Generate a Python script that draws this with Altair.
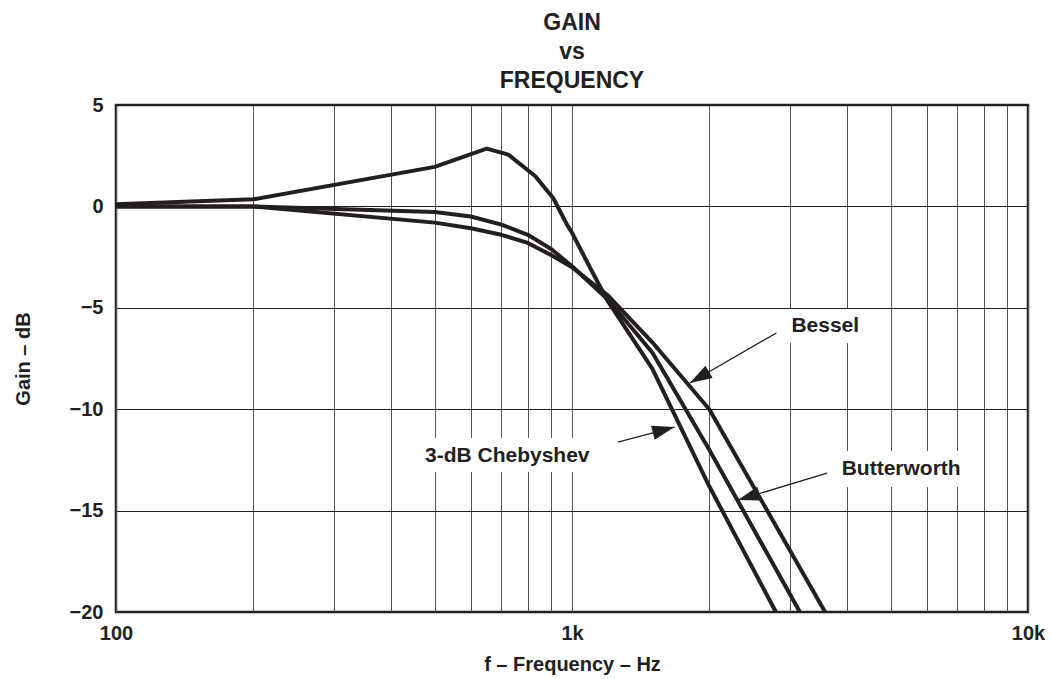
import math
import altair as alt
import pandas as pd

# ---- data ----
freq_cheb = [100, 200, 500, 650, 725, 830, 910, 975, 1000, 1100, 1200, 1500, 2000, 2800]
gain_cheb = [0.1, 0.35, 1.95, 2.85, 2.55, 1.5, 0.4, -0.9, -1.3, -3.1, -4.7, -8.0, -13.8, -20.0]

freq_butter = [100, 200, 500, 600, 700, 800, 900, 1000, 1200, 1500, 2000, 3160]
gain_butter = [0.0, 0.0, -0.28, -0.5, -0.9, -1.4, -2.1, -2.95, -4.6, -7.2, -12.0, -20.0]

freq_bessel = [100, 200, 500, 600, 700, 800, 900, 1000, 1200, 1500, 2000, 3590]
gain_bessel = [0.0, 0.0, -0.8, -1.08, -1.4, -1.8, -2.4, -3.0, -4.4, -6.7, -10.0, -20.0]

label_text = ["Bessel", "3-dB Chebyshev", "Butterworth"]
label_f = [3028, 476, 3903]
label_db = [-6.19, -12.59, -13.24]

arrow_tail_f = [2807, 1261, 3626]
arrow_tail_db = [-6.24, -11.62, -13.15]
arrow_tip_f = [1812, 1678, 2312]
arrow_tip_db = [-8.71, -10.88, -14.48]

# white gaps behind the labels (grid is interrupted there)
gap_f1 = [2917, 464, 3775]
gap_f2 = [4458, 1129, 7388]
gap_d1 = [-5.06, -11.42, -12.06]
gap_d2 = [-6.74, -13.1, -13.84]

x_grid = [100, 200, 300, 400, 500, 600, 700, 800, 900,
          1000, 2000, 3000, 4000, 5000, 6000, 7000, 8000, 9000, 10000]
y_ticks = [-20, -15, -10, -5, 0, 5]

INK = "#231f20"
FONT = "Liberation Sans"
W, H = 912, 507

rows = []
for name, fs, gs in [("3-dB Chebyshev", freq_cheb, gain_cheb),
                     ("Butterworth", freq_butter, gain_butter),
                     ("Bessel", freq_bessel, gain_bessel)]:
    for i, (f, g) in enumerate(zip(fs, gs)):
        rows.append({"series": name, "f": f, "db": g, "order": i})
curves = pd.DataFrame(rows)


def px(f):
    return W * math.log10(f / 100.0) / 2.0


def py(d):
    return H * (5.0 - d) / 25.0


angles = []
for tf, td, hf, hd in zip(arrow_tail_f, arrow_tail_db, arrow_tip_f, arrow_tip_db):
    dx = px(hf) - px(tf)
    dy = py(hd) - py(td)
    angles.append(math.degrees(math.atan2(dx, -dy)) % 360)

arrows = pd.DataFrame({"f": arrow_tail_f, "db": arrow_tail_db,
                       "f2": arrow_tip_f, "db2": arrow_tip_db})
heads = pd.DataFrame({"f": arrow_tip_f, "db": arrow_tip_db, "ang": angles})
labels = pd.DataFrame({"f": label_f, "db": label_db, "text": label_text})
gaps = pd.DataFrame({"f": gap_f1, "f2": gap_f2, "db": gap_d1, "db2": gap_d2})

xscale = alt.Scale(type="log", domain=[100, 10000], nice=False)
yscale = alt.Scale(domain=[-20, 5], nice=False, zero=False)

x_axis = alt.Axis(
    values=x_grid,
    labelExpr="datum.value == 100 ? '100' : datum.value == 1000 ? '1k' : datum.value == 10000 ? '10k' : ''",
    grid=True, gridColor="#555555", gridWidth=1,
    ticks=False, tickSize=0, domain=False,
    labelFont=FONT, labelFontSize=20, labelFontWeight="bold", labelColor=INK,
    labelPadding=11, labelFlush=False, labelOverlap=False,
    title="f – Frequency – Hz", titleFont=FONT, titleFontSize=20,
    titleFontWeight="bold", titleColor=INK, titleY=58, titleBaseline="alphabetic",
)
y_axis = alt.Axis(
    values=y_ticks, format="d",
    labelExpr="replace(datum.label, '-', '–')",
    grid=True, gridColor=INK, gridWidth=1,
    ticks=False, tickSize=0, domain=False,
    labelFont=FONT, labelFontSize=20, labelFontWeight="bold", labelColor=INK,
    labelPadding=13, labelOverlap=False,
    title="Gain – dB", titleFont=FONT, titleFontSize=20,
    titleFontWeight="bold", titleColor=INK, titleAngle=270,
    titleX=-87, titleY=H / 2, titleAlign="center", titleBaseline="alphabetic",
)

X = alt.X("f:Q", scale=xscale, axis=x_axis, title="f – Frequency – Hz")
Y = alt.Y("db:Q", scale=yscale, axis=y_axis, title="Gain – dB")

gap_layer = alt.Chart(gaps).mark_rect(color="white").encode(
    x=X, x2="f2:Q", y=Y, y2="db2:Q",
)

curve_layer = alt.Chart(curves).mark_line(
    color=INK, strokeWidth=4, strokeJoin="round"
).encode(
    x=X, y=Y, detail="series:N", order="order:Q",
)

shaft_layer = alt.Chart(arrows).mark_rule(color=INK, strokeWidth=1.3).encode(
    x=X, x2="f2:Q", y=Y, y2="db2:Q",
)

head_layer = alt.Chart(heads).mark_point(
    shape="M0,0L-0.32,1L0.32,1Z", filled=True, color=INK, opacity=1,
    size=2000, strokeWidth=0,
).encode(
    x=X, y=Y, angle=alt.Angle("ang:Q", scale=None),
)

text_layer = alt.Chart(labels).mark_text(
    align="left", baseline="alphabetic", font=FONT, fontSize=21,
    fontWeight="bold", color=INK,
).encode(
    x=X, y=Y, text="text:N",
)

chart = alt.layer(gap_layer, curve_layer, shaft_layer, head_layer, text_layer).properties(
    width=W, height=H,
    title=alt.TitleParams(
        text=["GAIN", "vs", "FREQUENCY"], font=FONT, fontSize=23,
        fontWeight="bold", color=INK, lineHeight=29, anchor="middle", offset=2,
    ),
    autosize=alt.AutoSizeParams(type="none"),
    padding={"left": 108, "top": 97, "right": 17, "bottom": 64},
).configure_view(stroke=INK, strokeWidth=2.5)

chart.save("out.html", embed_options={"renderer": "svg", "actions": False})
